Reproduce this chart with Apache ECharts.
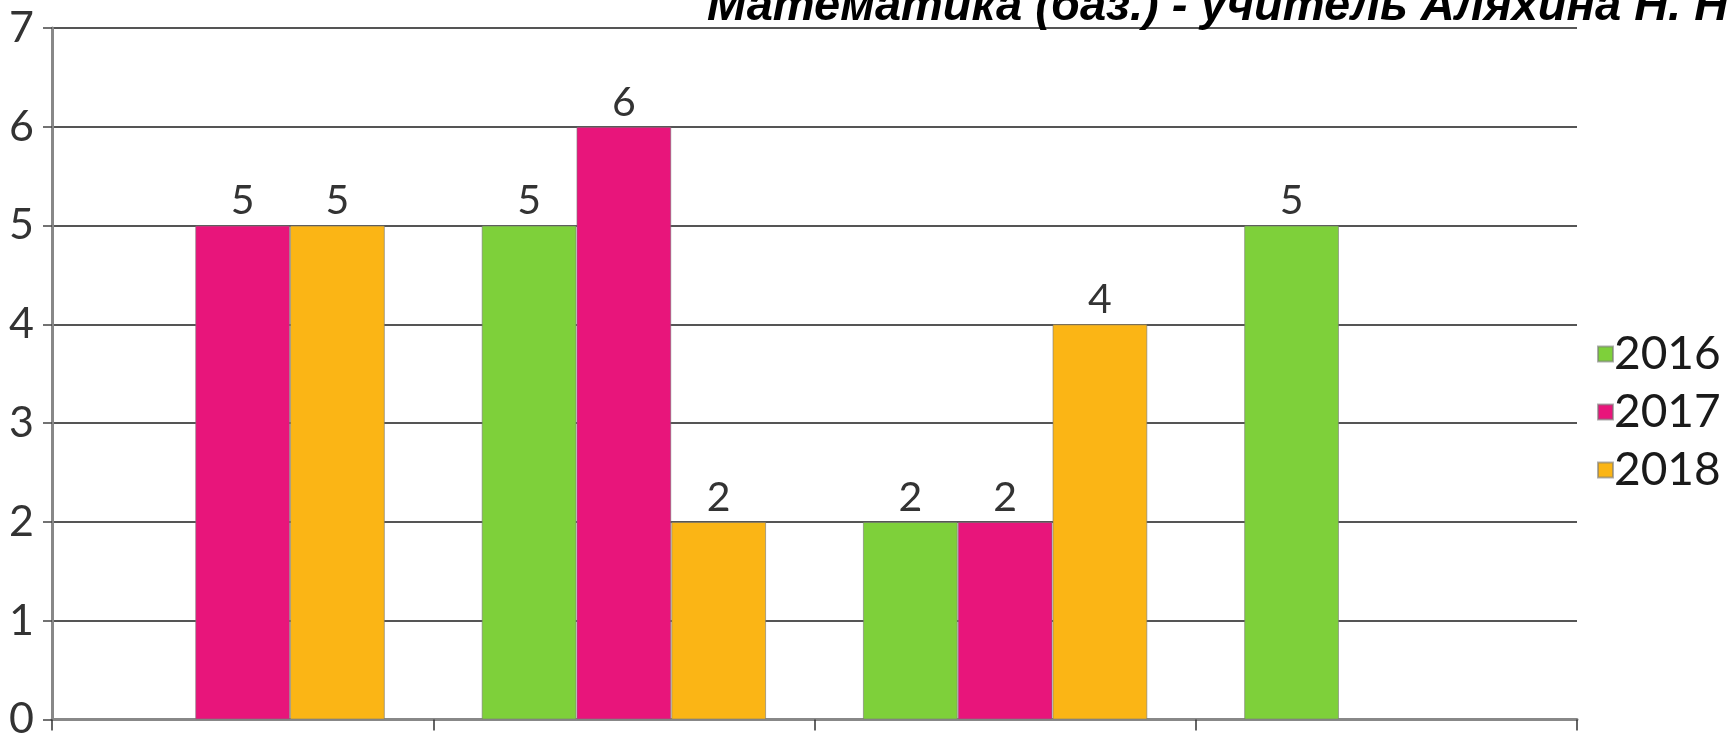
<!DOCTYPE html>
<html><head><meta charset="utf-8">
<script src="https://cdn.jsdelivr.net/npm/echarts@6/dist/echarts.min.js"></script>
<style>html,body{margin:0;padding:0;background:#fff}#c{width:1727px;height:741px}</style>
</head><body><div id="c"></div>
<script>
const titleText = 'Математика (баз.) - учитель Аляхина Н. Н.';
const categories = ['1', '2', '3', '4'];
const seriesNames = ['2016', '2017', '2018'];
const values2016 = [null, 5, 2, 5];
const values2017 = [5, 6, 2, null];
const values2018 = [5, 2, 4, null];
const yTicks = [0, 1, 2, 3, 4, 5, 6, 7];
const colors = ['#7ED03A', '#E8157B', '#FBB515'];

const chart = echarts.init(document.getElementById('c'), null, {renderer: 'canvas'});
const labelFont = 'Lato';
const dataSets = [values2016, values2017, values2018];
chart.setOption({
  animation: false,
  backgroundColor: '#fff',
  title: {
    text: titleText,
    left: 702, top: -21,
    textStyle: {fontFamily: 'Liberation Sans', fontWeight: 'bold', fontStyle: 'italic', fontSize: 47, color: '#000'}
  },
  legend: {
    orient: 'vertical', left: 1592, top: 326,
    itemWidth: 15, itemHeight: 15, itemGap: 12, icon: 'rect',
    textStyle: {fontFamily: labelFont, fontSize: 46, color: '#1a1a1a', padding: [0, 0, 0, -4]},
    data: seriesNames
  },
  grid: {left: 52, right: 150, top: 28, bottom: 19, containLabel: false},
  xAxis: {
    type: 'category', data: categories,
    axisLine: {lineStyle: {color: '#888', width: 3}},
    axisTick: {show: true, length: 11, lineStyle: {color: '#333', width: 1.5}},
    axisLabel: {show: false},
    splitLine: {show: false}
  },
  yAxis: {
    type: 'value', min: yTicks[0], max: yTicks[yTicks.length - 1], interval: 1,
    axisLine: {show: true, lineStyle: {color: '#888', width: 3}},
    axisTick: {show: true, length: 9, lineStyle: {color: '#444', width: 1.5}},
    axisLabel: {fontFamily: labelFont, fontSize: 43, color: '#333', margin: 18},
    splitLine: {lineStyle: {color: '#555', width: 2}}
  },
  series: seriesNames.map((n, i) => ({
    name: n, type: 'bar', data: dataSets[i],
    barGap: '0%', barCategoryGap: '25.4%',
    itemStyle: {color: colors[i], borderColor: 'rgba(120,120,120,0.6)', borderWidth: 1},
    label: {show: true, position: 'top', distance: 4, fontFamily: labelFont, fontSize: 41, color: '#333'}
  }))
});
</script></body></html>
